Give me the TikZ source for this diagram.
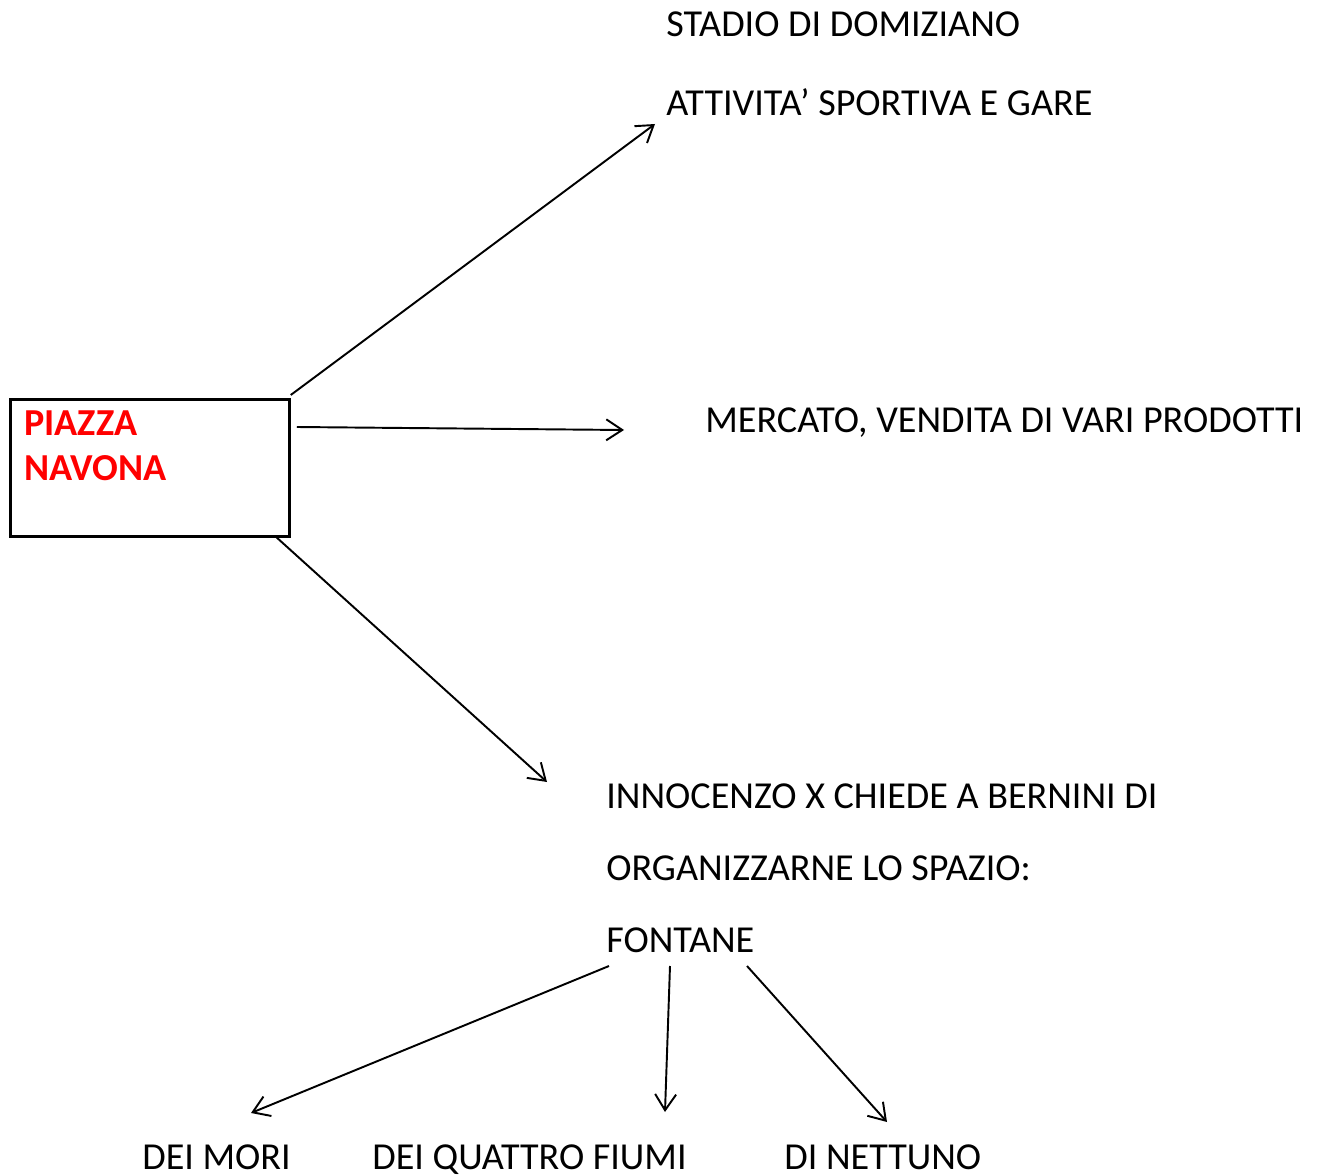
\documentclass[tikz,border=0pt]{standalone}
\usepackage{fontspec}
\setmainfont{Carlito}
\usepackage{xcolor}
\usetikzlibrary{positioning,arrows.meta}

\begin{document}
\begin{tikzpicture}[
  x=0.02cm, y=-0.02cm,
  txt/.style={anchor=base west, inner sep=0pt, font=\fontsize{21.7}{25.5}\selectfont},
  mainbox/.style={draw, line width=1.6pt, minimum width=5.58cm, minimum height=2.74cm,
                  anchor=north west, inner sep=0pt},
  arr/.style={-{Straight Barb[length=3.2mm, width=4.2mm, line width=1.1pt]}, line width=1.1pt}
]
\useasboundingbox (0,0) rectangle (1323,1176);

%% Central box
\node[mainbox] (piazza) at (9,398) {};
\node[txt, align=left, text=red, font=\fontsize{21.7}{25.5}\selectfont\bfseries]
  (ptitle) at (24,480) {PIAZZA\\NAVONA};

%% Top branch
\node[txt] (stadio) at (666,37) {STADIO DI DOMIZIANO};
\node[txt] (gare) at (666,116) {ATTIVITA’ SPORTIVA E GARE};
\coordinate (tgare) at (655,124);
\draw[arr] (piazza.north east) ++(0,-3) -- (tgare);

%% Middle branch
\node[txt] (mercato) at (705,432) {MERCATO, VENDITA DI VARI PRODOTTI};
\coordinate (tmerc) at (624,430);
\draw[arr] ([xshift=6*0.02cm, yshift=-29*0.02cm]piazza.north east) -- (tmerc);

%% Lower branch
\node[txt] (innoc) at (606,808) {INNOCENZO X CHIEDE A BERNINI DI};
\node[txt] (organ) at (606,880) {ORGANIZZARNE LO SPAZIO:};
\node[txt] (fontane) at (606,952) {FONTANE};
\coordinate (tinnoc) at (547,782);
\draw[arr] ([xshift=-16*0.02cm, yshift=2*0.02cm]piazza.south east) -- (tinnoc);

%% Fountains
\node[txt] (mori) at (142,1169) {DEI MORI};
\node[txt] (fiumi) at (372,1169) {DEI QUATTRO FIUMI};
\node[txt] (nettuno) at (784,1169) {DI NETTUNO};
\coordinate (tmori) at (251,1113);
\coordinate (tfiumi) at (665,1112);
\coordinate (tnett) at (887,1122);
\draw[arr] ([yshift=-14*0.02cm]fontane.base west) ++(3,0) -- (tmori);
\draw[arr] ([yshift=-14*0.02cm]fontane.base west) ++(64,0) -- (tfiumi);
\draw[arr] ([yshift=-14*0.02cm]fontane.base west) ++(141,0) -- (tnett);
\end{tikzpicture}
\end{document}
